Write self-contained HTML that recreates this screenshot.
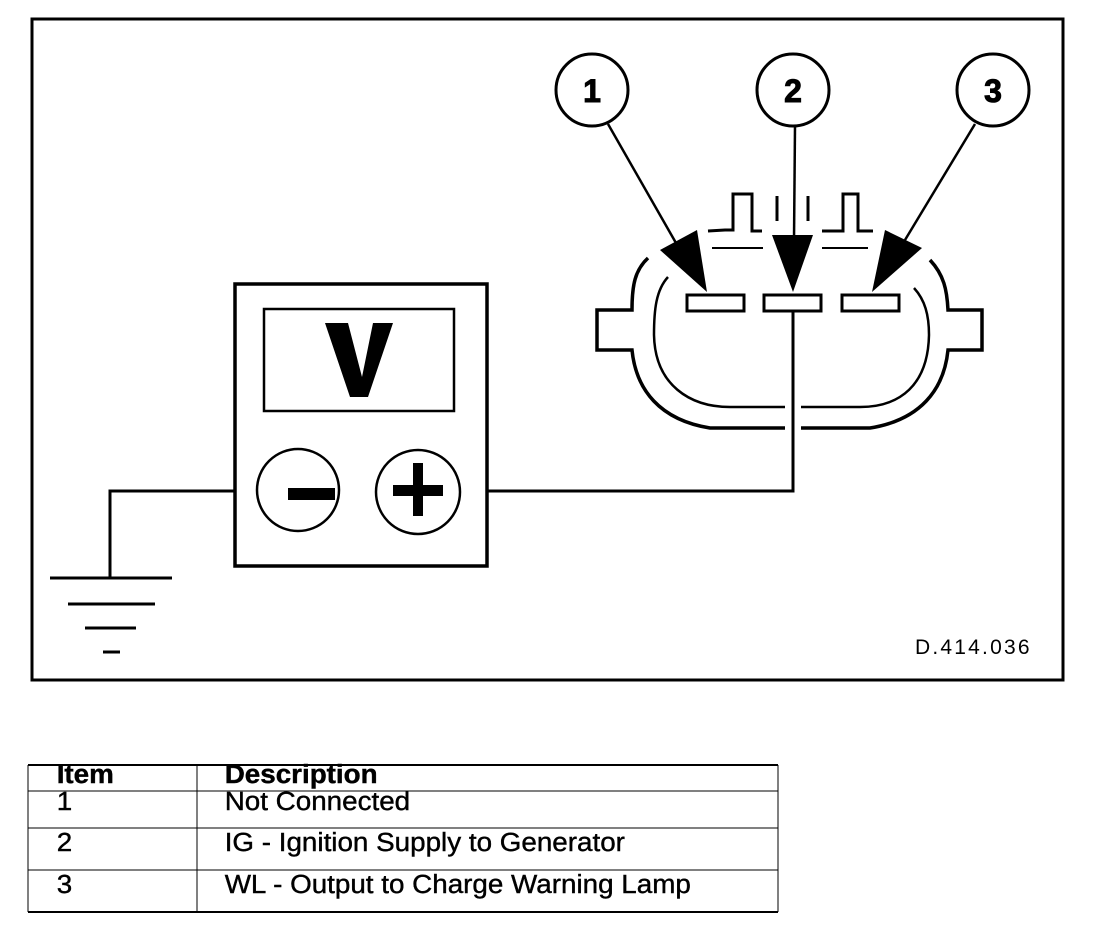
<!DOCTYPE html>
<html><head><style>
body{margin:0;background:#fff;}
svg{display:block}
text{font-family:"Liberation Sans",Arial,sans-serif}
</style></head><body>
<svg width="1120" height="930" viewBox="0 0 1120 930" xmlns="http://www.w3.org/2000/svg">
<rect x="32" y="19" width="1031" height="661" fill="none" stroke="#000" stroke-width="3"/>
<g fill="#fff" stroke="#000" stroke-width="3">
<circle cx="592" cy="90" r="36"/><circle cx="793" cy="90" r="36"/><circle cx="993" cy="90" r="36"/>
</g>
<g font-size="32" font-weight="bold" text-anchor="middle" stroke="#000" stroke-width="1">
<text x="592" y="102">1</text><text x="793" y="102">2</text><text x="993" y="102">3</text>
</g>
<g stroke="#000" stroke-width="2.5" fill="none">
<line x1="608" y1="124" x2="680" y2="250"/>
<line x1="795" y1="126" x2="794" y2="240"/>
<line x1="975" y1="124" x2="905" y2="240"/>
</g>
<g fill="#000">
<polygon points="660,250 697,230 707,292"/>
<polygon points="772,235 813,235 793,292"/>
<polygon points="885,230 922,248 872,292"/>
</g>
<g fill="#fff" stroke="#000" stroke-width="3">
<rect x="687" y="295" width="57" height="16"/>
<rect x="764" y="295" width="57" height="16"/>
<rect x="842" y="295" width="57" height="16"/>
</g>
<g fill="none" stroke="#000" stroke-width="3.5">
<path d="M648,258 C635,270 632,285 632,310 L597,310 L597,350 L632,350 C636,390 660,420 710,428 L785,428"/>
<path d="M801,428 L870,428 C920,420 944,390 948,350 L982,350 L982,310 L948,310 C947,290 944,275 930,260"/>
</g>
<g fill="none" stroke="#000" stroke-width="2.5">
<path d="M668,277 C656,290 654,310 654,335 C655,385 690,407 730,407 L785,407"/>
<path d="M801,407 L860,407 C900,407 928,385 929,335 C929,315 925,300 914,288"/>
</g>
<g fill="none" stroke="#000" stroke-width="3">
<path d="M708,231 L725,230 L733,230 L733,194 L752,194 L752,231 L762,231"/>
<path d="M822,231 L843,231 L843,194 L858,194 L858,231 L873,231"/>
<line x1="777" y1="196" x2="777" y2="221"/>
<line x1="808" y1="196" x2="808" y2="221"/>
<line x1="712" y1="248" x2="763" y2="248" stroke-width="2"/>
<line x1="822" y1="248" x2="868" y2="248" stroke-width="2"/>
</g>
<g fill="none" stroke="#000" stroke-width="3">
<polyline points="793,312 793,491 487,491"/>
<polyline points="234,491 110,491 110,578"/>
<line x1="50" y1="578" x2="172" y2="578"/>
<line x1="68" y1="604" x2="155" y2="604"/>
<line x1="85" y1="628" x2="136" y2="628"/>
<line x1="103" y1="652" x2="120" y2="652"/>
</g>
<rect x="235" y="284" width="252" height="282" fill="#fff" stroke="#000" stroke-width="3.5"/>
<rect x="264" y="309" width="190" height="102" fill="#fff" stroke="#000" stroke-width="2.5"/>
<polygon points="325,323 348,323 362,377 373,323 393,323 368,397 350,397" fill="#000"/>
<circle cx="298" cy="490" r="41" fill="#fff" stroke="#000" stroke-width="2.5"/>
<circle cx="418" cy="492" r="42" fill="#fff" stroke="#000" stroke-width="2.5"/>
<rect x="288" y="488" width="47" height="12" fill="#000"/>
<rect x="393" y="485" width="50" height="11" fill="#000"/>
<rect x="413" y="463" width="10" height="53" fill="#000"/>
<text x="915" y="654" font-size="21" letter-spacing="2.2">D.414.036</text>
<g stroke="#000" stroke-width="1" fill="none">
<line x1="28" y1="765" x2="778" y2="765" stroke-width="2"/>
<line x1="28" y1="791" x2="778" y2="791"/>
<line x1="28" y1="828" x2="778" y2="828"/>
<line x1="28" y1="870" x2="778" y2="870"/>
<line x1="28" y1="912" x2="778" y2="912" stroke-width="2"/>
<line x1="28" y1="765" x2="28" y2="912"/>
<line x1="197" y1="765" x2="197" y2="912"/>
<line x1="778" y1="765" x2="778" y2="912"/>
</g>
<g font-size="26" transform="scale(1.07,1)" stroke="#000" stroke-width="0.4">
<text x="53" y="783" font-weight="bold">Item</text>
<text x="210" y="783" font-weight="bold">Description</text>
<text x="53" y="810">1</text><text x="210" y="810">Not Connected</text>
<text x="53" y="851">2</text><text x="210" y="851">IG - Ignition Supply to Generator</text>
<text x="53" y="893">3</text><text x="210" y="893">WL - Output to Charge Warning Lamp</text>
</g>
</svg>
</body></html>
